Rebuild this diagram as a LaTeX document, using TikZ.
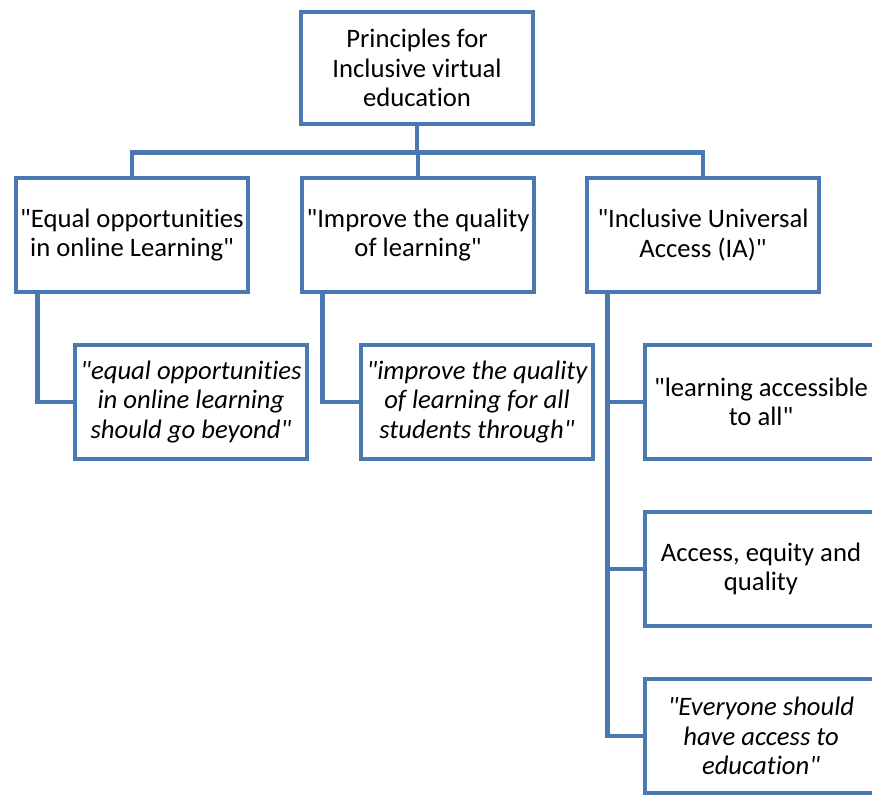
\documentclass[tikz,border=0pt]{standalone}
\usepackage{fontspec}
\setmainfont{Carlito}[Ligatures={TeXOff,CommonOff}]
\usepackage{tikz}
\usetikzlibrary{calc,positioning}
\definecolor{linkblue}{RGB}{74,120,176}
\tikzset{
	box/.style={draw=linkblue, line width=3.4pt, fill=white, align=center,
		minimum width=174pt, minimum height=85.5pt, inner sep=1pt,
		font={\fontsize{20}{22}\selectfont}},
	link/.style={draw=linkblue, line width=3.4pt},
}
\begin{document}
\begin{tikzpicture}[x=0.75pt,y=-0.75pt]
		\useasboundingbox (0,0) rectangle (872,796);
		\clip (0,0) rectangle (872,796);
		\node[box, minimum height=84pt] at (417,68) (root) {Principles for\\Inclusive virtual\\education};
	
		\node[box] at (132,235) (eq) {"Equal opportunities\\in online Learning"};
		\node[box] at (418,235) (qual) {"Improve the quality\\of learning"};
		\node[box] at (703,235) (acc) {"Inclusive Universal\\Access (IA)"};
	
		\node[box, font={\fontsize{20}{22}\selectfont\itshape}] at (191,402) (eqq) {"equal opportunities\\in online learning\\should go beyond"};
		\node[box, font={\fontsize{20}{22}\selectfont\itshape}] at (477,402) (qualq) {"improve the quality\\of learning for all\\students through"};
	
		\node[box] at (761,402) (all) {"learning accessible\\to all"};
		\node[box] at (761,569) (eqty) {Access, equity and\\quality};
		\node[box, font={\fontsize{20}{22}\selectfont\itshape}] at (761,736) (edu) {"Everyone should\\have access to\\education"};
	
		\foreach \n in {eq,qual,acc}{
			\draw[link] (root.south) -- ++(0,26) -| (\n.north);
		}
	
		\draw[link] ($(eq.south west)+(24,0)$) |- (eqq.west);
		\draw[link] ($(qual.south west)+(23,0)$) |- (qualq.west);
		\foreach \n in {all,eqty,edu}{
			\draw[link] ($(acc.south west)+(23,0)$) |- (\n.west);
		}
\end{tikzpicture}
\end{document}
